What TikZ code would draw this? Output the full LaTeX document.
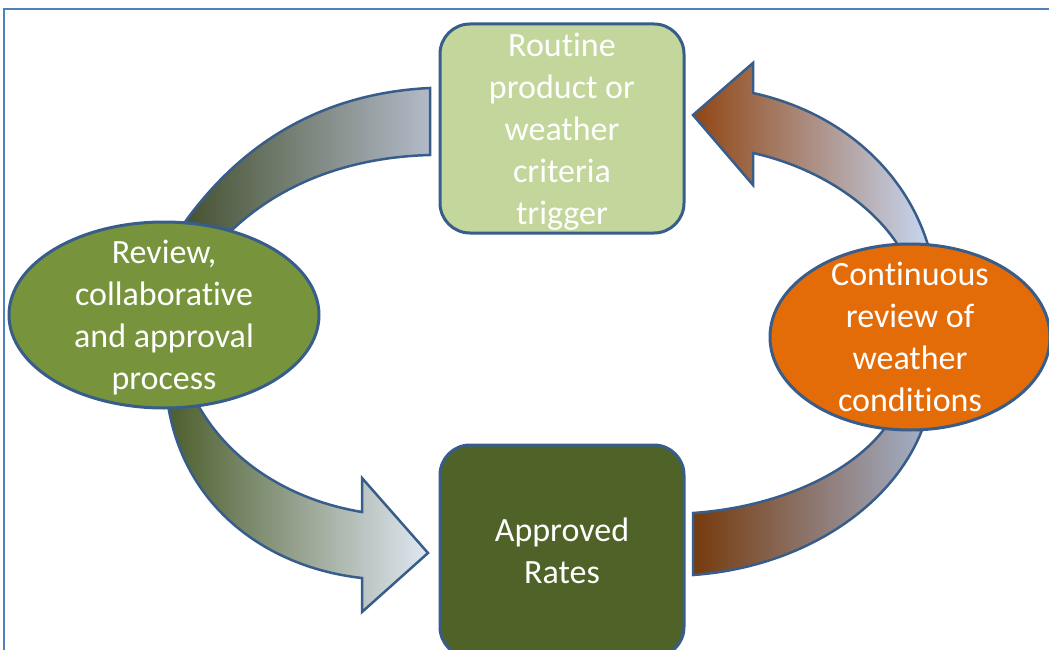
\documentclass[tikz,border=0pt]{standalone}
\usepackage{fontspec}
\setmainfont{Carlito}[Ligatures=NoCommon]
\usetikzlibrary{shapes.geometric}
\definecolor{edgeblue}{HTML}{385D8A}
\definecolor{frameblue}{HTML}{4F81BD}
\definecolor{lightgreen}{HTML}{C3D69B}
\definecolor{darkgreen}{HTML}{4F6228}
\definecolor{midgreen}{HTML}{77933C}
\definecolor{weatherorange}{HTML}{E36C09}
\tikzset{
  blocktext/.style={text=white,align=center,font=\fontsize{34}{42}\selectfont,inner sep=0pt},
  stepbox/.style={blocktext,draw=edgeblue,line width=3pt,rounded corners=30pt,minimum width=244pt,minimum height=209pt},
  stepoval/.style={blocktext,ellipse,draw=edgeblue,line width=3pt,inner ysep=-25pt,inner xsep=-10pt},
  cyclearrow/.style={draw=edgeblue,line width=2.5pt,line join=miter}
}
\begin{document}
\begin{tikzpicture}[x=1pt,y=-1pt]
\useasboundingbox (0,0) rectangle (1049,650);
\clip (0,0) rectangle (1049,650);
\draw[color=frameblue,line width=2.5pt] (4,9) rectangle (1070,670);
% curved block arrows, behind the nodes
\path[cyclearrow,left color={rgb,255:red,70;green,82;blue,50},right color={rgb,255:red,178;green,186;blue,200}]
  (185,222) .. controls (255,125) and (345,92) .. (430,88) -- (430,155)
  .. controls (355,157) and (285,180) .. (232,230) -- cycle;
\path[cyclearrow,left color={rgb,255:red,145;green,70;blue,20},right color={rgb,255:red,198;green,214;blue,240}]
  (693,115) -- (753,63) -- (753,93) .. controls (840,112) and (905,170) .. (928,245)
  -- (898,245) .. controls (872,205) and (820,168) .. (753,153) -- (753,185) -- cycle;
\path[cyclearrow,left color={rgb,255:red,76;green,94;blue,44},right color={rgb,255:red,224;green,231;blue,243}]
  (168,405) .. controls (185,510) and (270,568) .. (362,578) -- (362,612) -- (428,553)
  -- (362,478) -- (362,512) .. controls (290,500) and (230,462) .. (198,405) -- cycle;
\path[cyclearrow,left color={rgb,255:red,118;green,58;blue,14},right color={rgb,255:red,162;green,174;blue,198}]
  (693,513) .. controls (780,507) and (852,472) .. (885,428) -- (922,430)
  .. controls (893,505) and (805,567) .. (693,575) -- cycle;
% steps of the cycle
\node[stepbox,fill=lightgreen] (trigger) at (562,128.5) {Routine\\product or\\weather\\criteria\\\smash{trigger}};
\node[stepbox,fill=darkgreen,minimum height=212pt] (rates) at (562,551) {Approved\\Rates};
\node[stepoval,fill=midgreen,minimum width=310pt,minimum height=186pt] (review) at (164,315) {Review,\\collaborative\\and approval\\\smash{process}};
\node[stepoval,fill=weatherorange,minimum width=280pt,minimum height=186pt] (weather) at (910,337) {Continuous\\review of\\weather\\conditions};
\end{tikzpicture}
\end{document}
